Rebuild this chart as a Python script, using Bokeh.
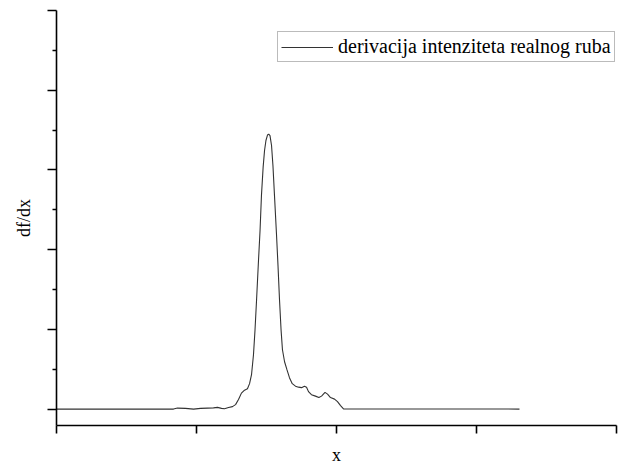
from bokeh.plotting import figure
from bokeh.models import Range1d, FixedTicker, Legend, LegendItem, CustomJSTickFormatter
from bokeh.embed import file_html
from bokeh.resources import INLINE

# data (x in arbitrary units, df/dx in arbitrary units)
x_vals = [0, 83.6, 86.4, 92.1, 97.9, 102.9, 107.9, 112.1, 115.0, 117.9, 120.0,
          122.9, 125.7, 127.9, 130.0, 132.1, 134.3, 136.4, 137.9, 139.3, 140.7,
          141.8, 142.9, 144.3, 145.4, 146.4, 147.6, 148.6, 149.6, 150.7, 151.6,
          152.5, 153.6, 154.6, 155.7, 157.1, 158.2, 159.3, 160.4, 161.4, 162.9,
          164.6, 166.4, 168.4, 170.7, 172.9, 175.0, 177.1, 178.6, 180.0, 182.1,
          185.0, 187.4, 189.3, 191.8, 193.6, 195.7, 198.6, 200.7, 202.9, 205.0,
          330.7]
y_vals = [0, 0, 0.0125, 0.009, 0, 0.009, 0.0125, 0.015, 0.021, 0.009, 0.004,
          0.019, 0.031, 0.056, 0.119, 0.200, 0.2375, 0.256, 0.319, 0.431, 0.681,
          0.994, 1.369, 1.869, 2.244, 2.681, 3.035, 3.244, 3.369, 3.4375, 3.45,
          3.431, 3.306, 3.056, 2.681, 2.206, 1.806, 1.369, 0.994, 0.744, 0.594,
          0.494, 0.394, 0.319, 0.2875, 0.275, 0.269, 0.2875, 0.275, 0.219, 0.181,
          0.1625, 0.144, 0.1625, 0.21, 0.1875, 0.144, 0.125, 0.094, 0.044, 0.0025,
          0]
x_ticks = [0, 100, 200, 300, 400]
y_ticks = [0, 1, 2, 3, 4, 5]
y_minor_ticks = [0.5, 1.5, 2.5, 3.5, 4.5]
series_label = "derivacija intenziteta realnog ruba"
x_label = "x"
y_label = "df/dx"

SERIF = "Liberation Serif"

p = figure(width=640, height=467, output_backend="svg", toolbar_location=None,
           x_range=Range1d(0, 400), y_range=Range1d(-0.206, 5.0),
           min_border_left=56, min_border_right=24, min_border_top=10,
           min_border_bottom=41)
p.outline_line_color = None
p.xgrid.visible = False
p.ygrid.visible = False
p.background_fill_color = "white"
p.border_fill_color = "white"

r = p.line(x_vals, y_vals, line_color="#333333", line_width=1.1)

blank = CustomJSTickFormatter(code="return ''")
for ax in (p.xaxis[0], p.yaxis[0]):
    ax.axis_line_color = "black"
    ax.axis_line_width = 1.6
    ax.major_tick_line_color = "black"
    ax.major_tick_line_width = 1.6
    ax.minor_tick_line_color = "black"
    ax.minor_tick_line_width = 1.6
    ax.major_tick_in = 0
    ax.minor_tick_in = 0
    ax.formatter = blank
    ax.major_label_text_font_size = "1px"
    ax.major_label_standoff = 0
    ax.axis_label_text_font = SERIF
    ax.axis_label_text_font_size = "18px"
    ax.axis_label_text_font_style = "normal"
    ax.axis_label_text_color = "black"

p.xaxis[0].ticker = FixedTicker(ticks=x_ticks, minor_ticks=[])
p.yaxis[0].ticker = FixedTicker(ticks=y_ticks, minor_ticks=y_minor_ticks)
p.xaxis[0].major_tick_out = 8
p.yaxis[0].major_tick_out = 9
p.yaxis[0].minor_tick_out = 4
p.xaxis[0].axis_label = x_label
p.yaxis[0].axis_label = y_label
p.xaxis[0].axis_label_standoff = 11
p.yaxis[0].axis_label_standoff = 14

legend = Legend(items=[LegendItem(label=series_label, renderers=[r])],
                location=(221, 363))
legend.label_text_font = SERIF
legend.label_text_font_size = "20px"
legend.label_text_color = "black"
legend.border_line_color = "#777777"
legend.border_line_width = 1
legend.padding = 3
legend.margin = 0
legend.spacing = 0
legend.glyph_width = 52
legend.glyph_height = 22
legend.label_height = 22
legend.label_standoff = 5
legend.background_fill_alpha = 1
p.add_layout(legend, "center")

open("out.html", "w").write(file_html(p, INLINE))
